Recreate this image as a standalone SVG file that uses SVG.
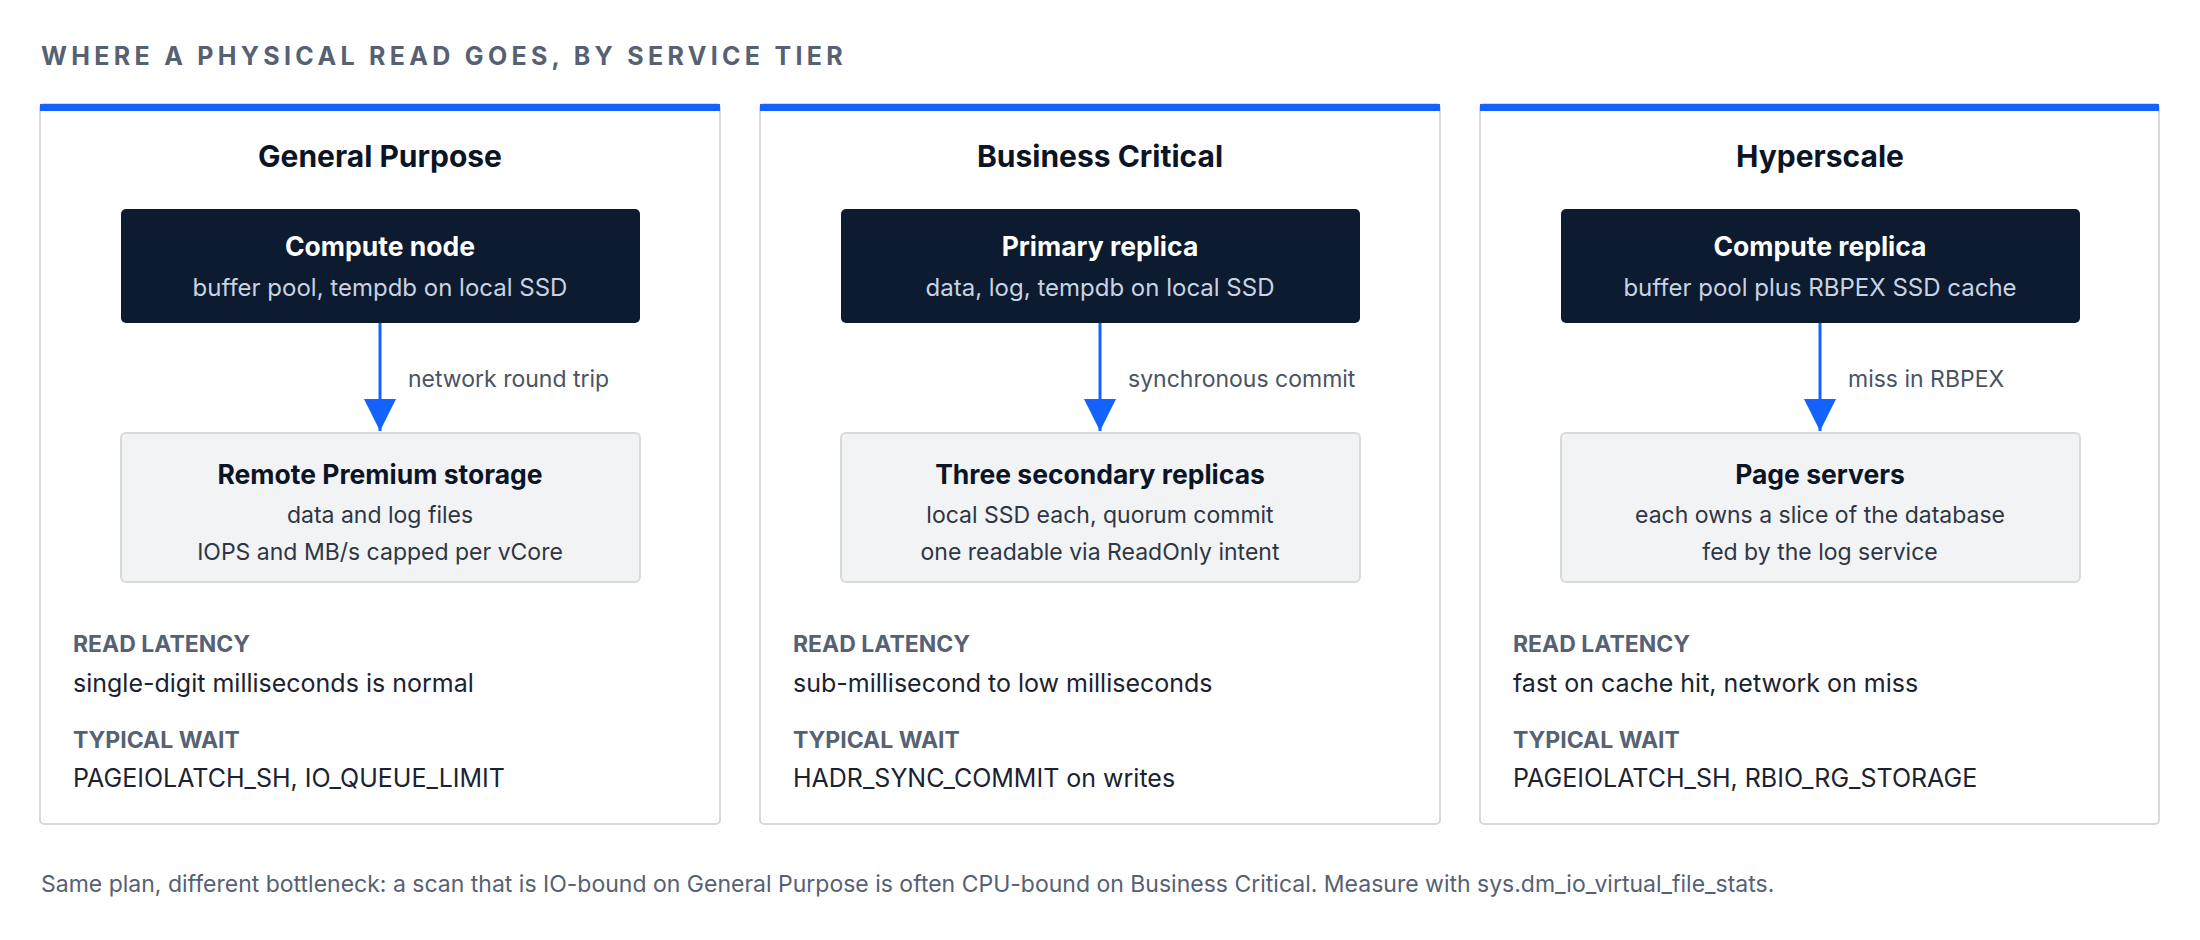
<svg xmlns="http://www.w3.org/2000/svg" width="2200" height="940" viewBox="0 0 2200 940">
<defs>
<style>
text{font-family:Inter,"Liberation Sans",sans-serif}
.h{font-size:25px;font-weight:700;fill:#566173;letter-spacing:4.3px}
.pt{font-size:30px;font-weight:700;fill:#0b1526;text-anchor:middle}
.panel{fill:#fff;stroke:#d6d9de;stroke-width:2}
.bar{fill:#1463ff}
.dk{fill:#0c1b2f}
.lt{fill:#f2f3f5;stroke:#d6d9de;stroke-width:2}
.dt{font-size:26.5px;font-weight:700;fill:#fff;text-anchor:middle}
.ds{font-size:24px;fill:#c9d3e3;text-anchor:middle}
.lt1{font-size:26.5px;font-weight:700;fill:#0b1526;text-anchor:middle}
.ls{font-size:23px;fill:#2e3644;text-anchor:middle}
.al{font-size:23px;fill:#4a5362}
.k{font-size:23px;font-weight:700;fill:#566173}
.v{font-size:25px;fill:#1b2230}
.f{font-size:23px;fill:#566173}
.c{stroke:#1463ff;stroke-width:3;fill:none}
</style>
<marker id="a" viewBox="0 0 20 20" refX="20" refY="10" markerWidth="32" markerHeight="32" markerUnits="userSpaceOnUse" orient="auto"><path d="M0,0 L20,10 L0,20 z" fill="#1463ff"/></marker>
</defs>
<rect width="2200" height="940" fill="#fff"/>
<text class="h" x="41" y="65">WHERE A PHYSICAL READ GOES, BY SERVICE TIER</text>

<g id="panel-gp">
<rect class="panel" x="40" y="104" width="680" height="720" rx="4"/>
<rect class="bar" x="40" y="104" width="680" height="7"/>
<text class="pt" x="380" y="167">General Purpose</text>
<text class="k" x="73" y="652">READ LATENCY</text>
<text class="v" x="73" y="692">single-digit milliseconds is normal</text>
<text class="k" x="73" y="748">TYPICAL WAIT</text>
<text class="v" x="73" y="787">PAGEIOLATCH_SH, IO_QUEUE_LIMIT</text>
</g>
<g id="gp-compute">
<rect class="dk" x="121" y="209" width="519" height="114" rx="5"/>
<text class="dt" x="380" y="256">Compute node</text>
<text class="ds" x="380" y="296">buffer pool, tempdb on local SSD</text>
</g>
<g id="gp-storage">
<rect class="lt" x="121" y="433" width="519" height="149" rx="5"/>
<text class="lt1" x="380" y="484">Remote Premium storage</text>
<text class="ls" x="380" y="523">data and log files</text>
<text class="ls" x="380" y="560">IOPS and MB/s capped per vCore</text>
</g>

<g id="panel-bc">
<rect class="panel" x="760" y="104" width="680" height="720" rx="4"/>
<rect class="bar" x="760" y="104" width="680" height="7"/>
<text class="pt" x="1100" y="167">Business Critical</text>
<text class="k" x="793" y="652">READ LATENCY</text>
<text class="v" x="793" y="692">sub-millisecond to low milliseconds</text>
<text class="k" x="793" y="748">TYPICAL WAIT</text>
<text class="v" x="793" y="787">HADR_SYNC_COMMIT on writes</text>
</g>
<g id="bc-primary">
<rect class="dk" x="841" y="209" width="519" height="114" rx="5"/>
<text class="dt" x="1100" y="256">Primary replica</text>
<text class="ds" x="1100" y="296">data, log, tempdb on local SSD</text>
</g>
<g id="bc-secondary">
<rect class="lt" x="841" y="433" width="519" height="149" rx="5"/>
<text class="lt1" x="1100" y="484">Three secondary replicas</text>
<text class="ls" x="1100" y="523">local SSD each, quorum commit</text>
<text class="ls" x="1100" y="560">one readable via ReadOnly intent</text>
</g>

<g id="panel-hs">
<rect class="panel" x="1480" y="104" width="679" height="720" rx="4"/>
<rect class="bar" x="1480" y="104" width="679" height="7"/>
<text class="pt" x="1820" y="167">Hyperscale</text>
<text class="k" x="1513" y="652">READ LATENCY</text>
<text class="v" x="1513" y="692">fast on cache hit, network on miss</text>
<text class="k" x="1513" y="748">TYPICAL WAIT</text>
<text class="v" x="1513" y="787">PAGEIOLATCH_SH, RBIO_RG_STORAGE</text>
</g>
<g id="hs-compute">
<rect class="dk" x="1561" y="209" width="519" height="114" rx="5"/>
<text class="dt" x="1820" y="256">Compute replica</text>
<text class="ds" x="1820" y="296">buffer pool plus RBPEX SSD cache</text>
</g>
<g id="hs-pages">
<rect class="lt" x="1561" y="433" width="519" height="149" rx="5"/>
<text class="lt1" x="1820" y="484">Page servers</text>
<text class="ls" x="1820" y="523">each owns a slice of the database</text>
<text class="ls" x="1820" y="560">fed by the log service</text>
</g>

<g id="connectors">
<path class="c" d="M380,323 V431" marker-end="url(#a)"/>
<text class="al" x="408" y="387">network round trip</text>
<path class="c" d="M1100,323 V431" marker-end="url(#a)"/>
<text class="al" x="1128" y="387">synchronous commit</text>
<path class="c" d="M1820,323 V431" marker-end="url(#a)"/>
<text class="al" x="1848" y="387">miss in RBPEX</text>
</g>

<text class="f" x="41" y="892">Same plan, different bottleneck: a scan that is IO-bound on General Purpose is often CPU-bound on Business Critical. Measure with sys.dm_io_virtual_file_stats.</text>
</svg>
